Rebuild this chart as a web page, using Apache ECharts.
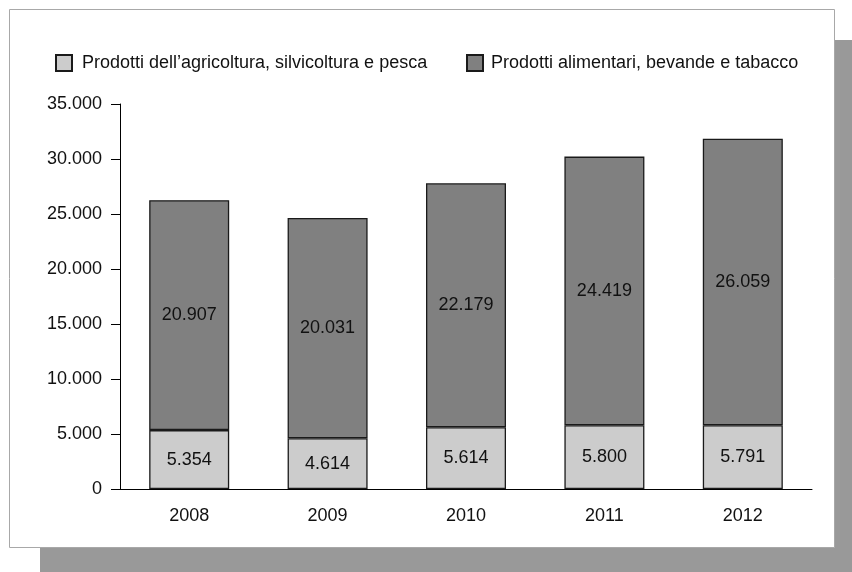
<!DOCTYPE html>
<html>
<head>
<meta charset="utf-8">
<script src="https://cdn.jsdelivr.net/npm/echarts@6/dist/echarts.min.js"></script>
<style>
html,body{margin:0;padding:0;background:#fff;}
#chart{width:852px;height:572px;}
</style>
</head>
<body>
<div id="chart"></div>
<script>
const categories = ['2008', '2009', '2010', '2011', '2012'];
const seriesNames = ['Prodotti dell\u2019agricoltura, silvicoltura e pesca', 'Prodotti alimentari, bevande e tabacco'];
const agricoltura = [5354, 4614, 5614, 5800, 5791];
const alimentari = [20907, 20031, 22179, 24419, 26059];
const yTicks = [0, 5000, 10000, 15000, 20000, 25000, 30000, 35000];

function fmt(v) {
  return String(Math.round(v)).replace(/\B(?=(\d{3})+(?!\d))/g, '.');
}

const FONT = '"Liberation Sans", Arial, sans-serif';
const FS = 18;
const TC = '#111';
const chart = echarts.init(document.getElementById('chart'), null, {renderer: 'canvas'});
chart.setOption({
  animation: false,
  backgroundColor: '#ffffff',
  textStyle: {fontFamily: FONT},
  graphic: [
    {type: 'rect', z: -10, shape: {x: 40, y: 40, width: 830, height: 540}, style: {fill: '#999999'}},
    {type: 'rect', z: -9, shape: {x: 9.5, y: 9.5, width: 825, height: 538}, style: {fill: '#ffffff', stroke: '#a8a8a8', lineWidth: 1}}
  ],
  legend: [
    {data: [seriesNames[0]], icon: 'rect', left: 50, top: 49, itemWidth: 16, itemHeight: 16,
     textStyle: {fontSize: FS, color: TC, fontFamily: FONT, padding: [0, 0, 0, 5]}},
    {data: [seriesNames[1]], icon: 'rect', left: 461, top: 49, itemWidth: 16, itemHeight: 16,
     textStyle: {fontSize: FS, color: TC, fontFamily: FONT, padding: [0, 0, 0, 3]}}
  ],
  grid: {left: 120, right: 40, top: 104, bottom: 83, containLabel: false},
  xAxis: {
    type: 'category',
    data: categories,
    boundaryGap: true,
    axisLine: {show: true, lineStyle: {color: '#000', width: 1}},
    axisTick: {show: false},
    axisLabel: {fontSize: FS, color: TC, margin: 18, fontFamily: FONT},
    splitLine: {show: false}
  },
  yAxis: {
    type: 'value',
    min: yTicks[0],
    max: yTicks[yTicks.length - 1],
    interval: yTicks[1] - yTicks[0],
    axisLine: {show: true, lineStyle: {color: '#000', width: 1}},
    axisTick: {show: true, length: 9, inside: false, lineStyle: {color: '#000'}},
    axisLabel: {fontSize: FS, color: TC, margin: 18, fontFamily: FONT, formatter: fmt},
    splitLine: {show: false}
  },
  series: [
    {
      name: seriesNames[0], type: 'bar', stack: 'tot', data: agricoltura, barWidth: 80,
      itemStyle: {color: '#cccccc', borderColor: '#1a1a1a', borderWidth: 1.3},
      label: {show: true, position: 'inside', fontSize: FS, color: TC, fontFamily: FONT,
              formatter: p => fmt(p.value)}
    },
    {
      name: seriesNames[1], type: 'bar', stack: 'tot', data: alimentari, barWidth: 80,
      itemStyle: {color: '#808080', borderColor: '#1a1a1a', borderWidth: 1.3},
      label: {show: true, position: 'inside', fontSize: FS, color: TC, fontFamily: FONT,
              formatter: p => fmt(p.value)}
    }
  ]
});
</script>
</body>
</html>
